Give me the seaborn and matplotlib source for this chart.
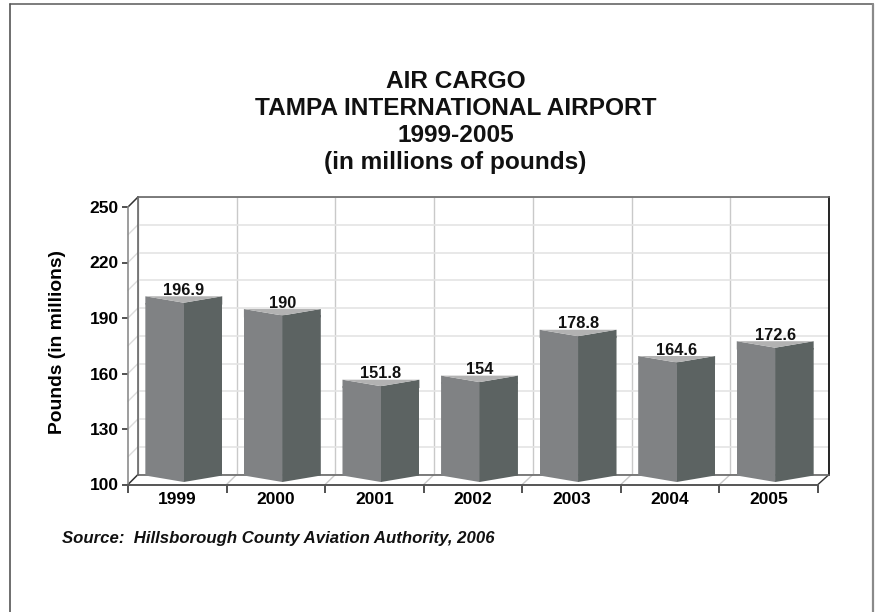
import matplotlib
matplotlib.use("Agg")
import matplotlib.pyplot as plt
from matplotlib.lines import Line2D
from matplotlib.patches import Polygon, ConnectionPatch
import pandas as pd
import seaborn as sns

years = ["1999", "2000", "2001", "2002", "2003", "2004", "2005"]
cargo = [196.9, 190, 151.8, 154, 178.8, 164.6, 172.6]
cargo_labels = ["196.9", "190", "151.8", "154", "178.8", "164.6", "172.6"]
y_ticks = [100, 130, 160, 190, 220, 250]
grid_ticks = [100, 115, 130, 145, 160, 175, 190, 205, 220, 235, 250]
faces = ["left", "right"]

W, H = 877, 612
sns.set_theme(style="white")
plt.rcParams["font.family"] = ["Liberation Sans", "DejaVu Sans"]
plt.rcParams["font.weight"] = "bold"
plt.rcParams["text.color"] = "black"
plt.rcParams["axes.labelcolor"] = "black"
plt.rcParams["xtick.labelcolor"] = "black"
plt.rcParams["ytick.labelcolor"] = "black"


def box(x0, y_top, x1, y_bot):
    # pixel box -> figure fraction
    return [x0 / W, 1 - y_bot / H, (x1 - x0) / W, (y_bot - y_top) / H]


def border(x0, y0, x1, y1, color, lw):
    fig.add_artist(Line2D([x0 / W, x1 / W], [1 - y0 / H, 1 - y1 / H], color=color, linewidth=lw))


fig = plt.figure(figsize=(W / 100, H / 100), dpi=100, facecolor="white")
border(9.5, 4, 873, 4, "#666666", 1.2)
border(9.5, 4, 9.5, 612, "#555555", 1.2)
border(872.5, 4, 872.5, 612, "#8a8a8a", 1.6)

# back wall, holds the grid
wall = fig.add_axes(box(138, 197, 829, 474.5), zorder=1)
wall.set_xlim(-0.5, 6.5)
wall.set_ylim(100, 250)
wall.set_yticks(grid_ticks)
wall.set_xticks([i - 0.5 for i in range(8)])
wall.tick_params(length=0, labelleft=False, labelbottom=False)
wall.grid(axis="y", color="#e4e4e4", linewidth=1.2)
wall.grid(axis="x", color="#c9c9c9", linewidth=1)
wall.set_axisbelow(True)
for side in ["left", "top", "bottom"]:
    wall.spines[side].set_color("#666666")
    wall.spines[side].set_linewidth(1.2)
wall.spines["right"].set_color("black")
wall.spines["right"].set_linewidth(1.2)

# front plane, holds the axis labels
ax = fig.add_axes(box(128, 207, 818, 484.5), zorder=2)
ax.patch.set_alpha(0)
ax.set_xlim(-0.5, 6.5)
ax.set_ylim(100, 250)
ax.set_yticks(y_ticks)
ax.set_xticks(range(7))
ax.set_xticklabels(years)
ax.set_xticks([i - 0.5 for i in range(8)], minor=True)
ax.tick_params(axis="y", length=4.5, width=1.2, color="#333333", labelsize=12.5, pad=2, left=True)
ax.tick_params(axis="x", which="major", length=0, labelsize=12.5, pad=5.5)
ax.tick_params(axis="x", which="minor", length=5.5, width=1.2, color="#333333", bottom=True)
for side in ["top", "right"]:
    ax.spines[side].set_visible(False)
ax.spines["left"].set_color("#8c8c8c")
ax.spines["left"].set_linewidth(1.2)
ax.spines["bottom"].set_color("#555555")
ax.spines["bottom"].set_linewidth(1.4)
ax.set_ylabel("")
fig.text(57 / W, 1 - 342.5 / H, "Pounds (in millions)", rotation=90, ha="center", va="center",
         fontsize=13.9, fontweight="bold")

# slanted lines on side wall and floor
for v in grid_ticks:
    dark = v in (100, 250)
    fig.add_artist(ConnectionPatch((-0.5, v), (-0.5, v), coordsA=ax.transData, coordsB=wall.transData,
                                   color="#333333" if dark else "#dcdcdc", linewidth=1.1 if dark else 1))
for i in range(1, 8):
    last = i == 7
    fig.add_artist(ConnectionPatch((i - 0.5, 100), (i - 0.5, 100), coordsA=ax.transData, coordsB=wall.transData,
                                   color="#333333" if last else "#c9c9c9", linewidth=1))

# bars, halfway between wall and front
bars = fig.add_axes(box(134.5, 204.5, 824.5, 482), zorder=3)
df = pd.DataFrame({
    "year": years * 2,
    "cargo": cargo * 2,
    "face": [faces[0]] * 7 + [faces[1]] * 7,
})
left_color, right_color, top_color = "#808284", "#5c6362", "#b2b2b2"
sns.barplot(data=df, x="year", y="cargo", hue="face", order=years, hue_order=faces,
            palette=[left_color, right_color], width=0.78, gap=0, saturation=1,
            legend=False, errorbar=None, linewidth=0, ax=bars)
bars.set_xlim(-0.5, 6.5)
bars.set_ylim(100, 250)
bars.axis("off")

depth = 3.5  # chevron height in data units
overlap = 0.006  # hides the seam between the two faces
for n, rect in enumerate(list(bars.patches)):
    x0, w, v = rect.get_x(), rect.get_width(), rect.get_height()
    left_face = n < 7
    if left_face:
        rect.set_width(w + overlap)
        outer, inner, clip_inner = x0, x0 + w, x0 + w + overlap
    else:
        outer, inner, clip_inner = x0 + w, x0, x0
    # cut the chevron at the bottom
    clip = Polygon([(outer, 100 + depth), (inner, 100), (clip_inner, 100), (clip_inner, v + 1), (outer, v + 1)],
                   transform=bars.transData)
    rect.set_clip_path(clip)
    color = left_color if left_face else right_color
    bars.add_patch(Polygon([(outer, v - 1), (clip_inner, v - 1), (clip_inner, v), (inner, v), (outer, v + depth)],
                           color=color, linewidth=0, zorder=3))

for i, v in enumerate(cargo):
    half = 0.39
    bars.add_patch(Polygon([(i - half, v + depth), (i + half, v + depth), (i, v)],
                           color=top_color, linewidth=0, zorder=3))
    bars.annotate(cargo_labels[i], (i, v), xytext=(0, 5.6), textcoords="offset points", ha="center",
                  va="baseline", fontsize=11.8, fontweight="bold", color="#111111", zorder=4)

# title and source
fig.text(455.5 / W, 1 - 122 / H, "AIR CARGO\nTAMPA INTERNATIONAL AIRPORT\n1999-2005\n(in millions of pounds)",
         ha="center", va="center", fontsize=17.6, fontweight="bold", color="#111111", linespacing=1.22)
fig.text(62 / W, 1 - 538 / H, "Source:  Hillsborough County Aviation Authority, 2006",
         ha="left", va="center", fontsize=12.1, fontweight="bold", style="italic", color="#111111")

fig.savefig("out.png", dpi=100)
